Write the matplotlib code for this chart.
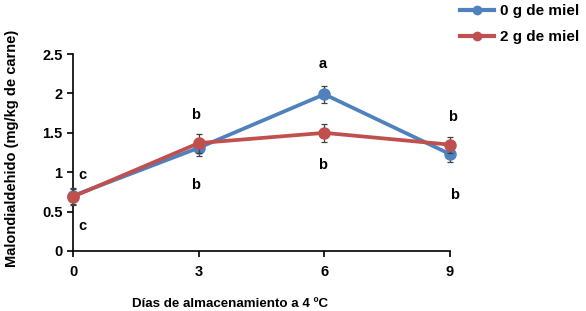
import matplotlib.pyplot as plt
from matplotlib.lines import Line2D

dias = [0, 3, 6, 9]
miel0 = [0.70, 1.31, 1.99, 1.23]
miel0_err = [0.10, 0.10, 0.11, 0.10]
miel2 = [0.69, 1.37, 1.50, 1.35]
miel2_err = [0.10, 0.12, 0.11, 0.10]

# letras de significancia (x, y, texto)
letras_x = [0.22, 0.22, 2.92, 2.92, 5.95, 5.95, 9.05, 9.1]
letras_y = [0.96, 0.32, 1.73, 0.84, 2.38, 1.09, 1.70, 0.71]
letras = ["c", "c", "b", "b", "a", "b", "b", "b"]

plt.rcParams['font.family'] = ['Liberation Sans', 'DejaVu Sans']

fig = plt.figure(figsize=(5.86, 3.11), dpi=100)
ax = fig.add_axes([0.1246, 0.193, 0.6434, 0.633])

azul = "#4F81BD"
rojo = "#C0504D"

ax.errorbar(dias, miel0, yerr=miel0_err, color=azul, lw=2.7, marker="o",
            ms=8, ecolor="#404040", elinewidth=0.9, capsize=2.5, capthick=0.9,
            zorder=3, clip_on=False)
ax.errorbar(dias, miel2, yerr=miel2_err, color=rojo, lw=2.7, marker="o",
            ms=8, ecolor="#404040", elinewidth=0.9, capsize=2.5, capthick=0.9,
            zorder=4, clip_on=False)

for x, y, t in zip(letras_x, letras_y, letras):
    ax.text(x, y, t, ha="center", va="center", fontsize=10.5, fontweight="bold")

ax.set_xlim(0, 9)
ax.set_ylim(0, 2.5)
ax.set_xticks(dias)
ax.set_yticks([0, 0.5, 1, 1.5, 2, 2.5])
ax.set_yticklabels(["0", "0.5", "1", "1.5", "2", "2.5"])
ax.spines["top"].set_visible(False)
ax.spines["right"].set_visible(False)
for sp in ("left", "bottom"):
    ax.spines[sp].set_linewidth(1.2)
ax.tick_params(direction="out", length=4, width=1.2, labelsize=10.5)
for lbl in ax.get_xticklabels() + ax.get_yticklabels():
    lbl.set_fontweight("bold")
ax.tick_params(axis="x", pad=6)

fig.text(0.393, 0.003, "Días de almacenamiento a 4 ºC", ha="center", va="bottom",
         fontsize=9.6, fontweight="bold")
fig.text(0.02, 0.524, "Malondialdehido (mg/kg de carne)", rotation=90,
         ha="center", va="center", fontsize=10.5, fontweight="bold")

handles = [Line2D([], [], color=azul, lw=3, marker="o", ms=6),
           Line2D([], [], color=rojo, lw=3, marker="o", ms=6)]
fig.legend(handles, ["0 g de miel", "2 g de miel"], loc="upper right",
           bbox_to_anchor=(1.012, 1.03), frameon=False,
           prop={"weight": "bold", "size": 11},
           handlelength=2.2, handletextpad=0.4, labelspacing=0.75)

fig.savefig("out.png", dpi=100)
